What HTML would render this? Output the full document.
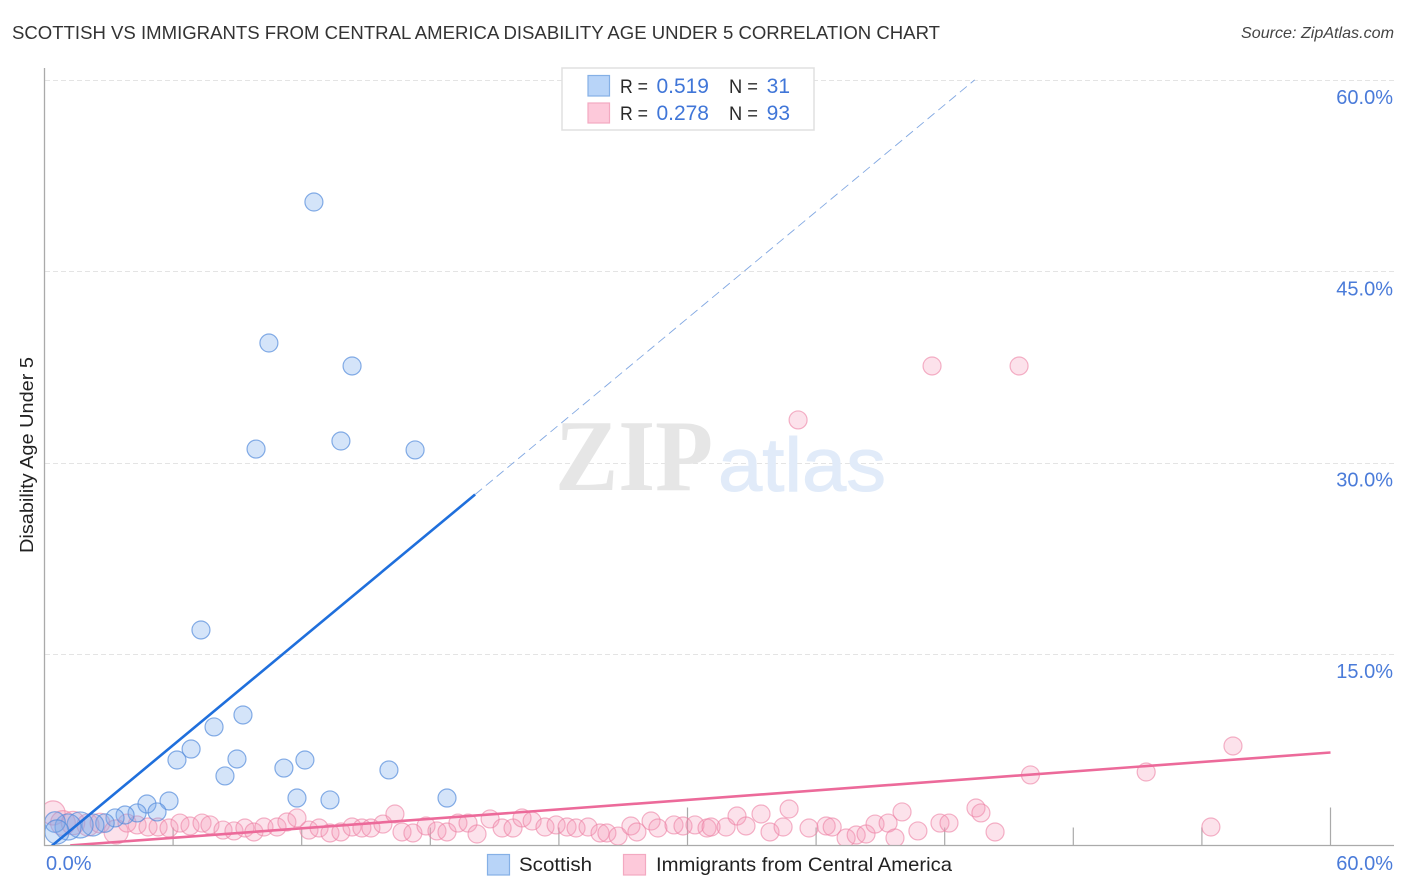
<!DOCTYPE html>
<html lang="en">
<head>
<meta charset="utf-8">
<title>Scottish vs Immigrants from Central America Disability Age Under 5 Correlation Chart</title>
<style>
html,body{margin:0;padding:0;background:#fff;width:1406px;height:892px;overflow:hidden}
svg{display:block;font-family:"Liberation Sans",sans-serif}
</style>
</head>
<body>
<svg id="chart" xmlns="http://www.w3.org/2000/svg" width="1406" height="892" viewBox="0 0 1406 892">
  <defs>
    <clipPath id="plot-clip"><rect x="45" y="60" width="1349" height="785"/></clipPath>
  </defs>
  <text x="12" y="39" font-size="18.5" fill="#333" textLength="928" lengthAdjust="spacingAndGlyphs">SCOTTISH VS IMMIGRANTS FROM CENTRAL AMERICA DISABILITY AGE UNDER 5 CORRELATION CHART</text>
  <text x="1394" y="38" font-size="16" font-style="italic" fill="#444" text-anchor="end" textLength="153" lengthAdjust="spacingAndGlyphs">Source: ZipAtlas.com</text>

  <g id="grid"></g>

  <g>
    <text x="555" y="490" font-family="'Liberation Serif',serif" font-weight="bold" font-size="102" fill="#e6e6e6" textLength="158" lengthAdjust="spacingAndGlyphs">ZIP</text>
    <text x="718" y="491" font-size="76" fill="#e1ebf9" stroke="#e1ebf9" stroke-width="1" textLength="168" lengthAdjust="spacingAndGlyphs">atlas</text>
  </g>

  <g id="axes">
    <line x1="44.5" y1="68" x2="44.5" y2="846" stroke="#aaa" stroke-width="1.3"/>
    <line x1="44" y1="845.5" x2="1394" y2="845.5" stroke="#aaa" stroke-width="1.3"/>
  </g>

  <g id="points" clip-path="url(#plot-clip)"></g>
  <g id="trends" clip-path="url(#plot-clip)"></g>
  <g id="tick-labels" font-size="20" fill="#4a7bd9"></g>

  <text transform="translate(33,455) rotate(-90)" font-size="18" fill="#222" text-anchor="middle" textLength="196" lengthAdjust="spacingAndGlyphs">Disability Age Under 5</text>

  <g>
    <rect x="562" y="68" width="252" height="62" fill="#fff" stroke="#e0e0e0" stroke-width="1.5"/>
    <rect x="588" y="75.5" width="21.5" height="20.5" fill="#b8d4f8" stroke="#85b0e6" stroke-width="1.2"/>
    <rect x="588" y="103" width="21.5" height="20" fill="#fdc9da" stroke="#f3a9c1" stroke-width="1.2"/>
    <g font-size="19.5" fill="#2a2a2a">
      <text x="620" y="93" textLength="28" lengthAdjust="spacingAndGlyphs">R =</text>
      <text x="729" y="93" textLength="29" lengthAdjust="spacingAndGlyphs">N =</text>
      <text x="620" y="120" textLength="28" lengthAdjust="spacingAndGlyphs">R =</text>
      <text x="729" y="120" textLength="29" lengthAdjust="spacingAndGlyphs">N =</text>
    </g>
    <g font-size="21" fill="#4076d8" text-anchor="end">
      <text x="709" y="93">0.519</text>
      <text x="790" y="93">31</text>
      <text x="709" y="120">0.278</text>
      <text x="790" y="120">93</text>
    </g>
  </g>

  <g>
    <rect x="487.5" y="854.5" width="22" height="20.5" fill="#b8d4f8" stroke="#85b0e6" stroke-width="1.2"/>
    <text x="519" y="871" font-size="19.5" fill="#222" textLength="73" lengthAdjust="spacingAndGlyphs">Scottish</text>
    <rect x="623.5" y="854.5" width="22" height="20.5" fill="#fdc9da" stroke="#f3a9c1" stroke-width="1.2"/>
    <text x="656" y="871" font-size="19.5" fill="#222" textLength="296" lengthAdjust="spacingAndGlyphs">Immigrants from Central America</text>
  </g>
</svg>
<script>
const yTicks = [15, 30, 45, 60];
const yTickLabels = ["15.0%", "30.0%", "45.0%", "60.0%"];
const xTicks = [6, 12, 18, 24, 30, 36, 42, 48, 54, 60];
const xMajorTicks = [30, 60];
const xEndLabels = ["0.0%", "60.0%"];

const scottishX = [12.57,10.47,14.35,9.87,13.83,17.29,7.30,9.26,7.91,6.84,6.18,8.98,8.42,11.17,12.15,16.07,11.78,13.32,18.78,5.81,4.78,5.25,4.32,3.76,3.29,2.82,2.26,1.66,1.10,0.49,0.58];
const scottishY = [50.43,39.38,37.58,31.07,31.70,31.00,16.89,10.23,9.29,7.56,6.70,6.78,5.45,6.07,6.70,5.92,3.72,3.57,3.72,3.49,3.25,2.63,2.55,2.39,2.16,1.76,1.61,1.61,1.45,1.84,1.06];
const scottishWeight = [1,1,1,1,1,1,1,1,1,1,1,1,1,1,1,1,1,1,1,1,1,1,1,1,1,1.05,1.5,2.1,2.1,1.3,1.8];

const immigrantsX = [0.40,0.86,1.33,2.03,2.59,3.34,3.85,4.32,4.83,5.30,5.81,6.32,6.79,7.35,7.72,8.33,8.84,9.35,9.77,10.24,10.85,11.31,11.78,12.34,12.81,13.32,13.83,14.35,14.81,15.23,15.79,16.35,16.68,17.19,17.80,18.31,18.78,19.29,19.76,20.18,20.79,21.35,21.86,22.28,22.75,23.35,23.87,24.38,24.80,25.36,25.92,26.24,26.76,27.36,27.64,28.30,28.62,29.37,29.79,30.35,30.91,31.10,31.80,32.31,32.73,33.43,33.85,34.46,34.74,35.67,36.47,36.75,37.40,37.87,38.33,38.75,39.36,39.68,40.01,40.75,41.78,42.20,43.46,43.69,44.35,46.00,51.40,55.45,54.42,41.41,45.47,35.16];
const immigrantsY = [2.55,1.76,1.76,1.61,1.76,1.06,1.76,1.61,1.45,1.45,1.37,1.76,1.53,1.76,1.61,1.21,1.14,1.37,1.06,1.45,1.45,1.84,2.16,1.21,1.37,0.98,1.06,1.45,1.37,1.37,1.68,2.47,1.06,0.98,1.53,1.14,1.06,1.76,1.76,0.90,2.08,1.37,1.37,2.16,1.92,1.45,1.61,1.45,1.37,1.45,0.98,0.98,0.74,1.53,1.06,1.92,1.37,1.61,1.53,1.61,1.37,1.45,1.45,2.31,1.53,2.47,1.06,1.45,2.86,1.37,1.53,1.45,0.59,0.82,0.90,1.68,1.76,0.59,2.63,1.14,1.76,1.76,2.94,2.55,1.06,5.53,5.76,7.80,1.45,37.58,37.58,33.35];
const immigrantsLeadWeight = [1.8,1.9,1.7,1.5,1.2,1.8];

const scottishTrend = { intercept: -0.5, slope: 1.394, solidEnd: 20.09, dashEnd: 43.4 };
const immigrantsTrend = { intercept: -0.14, slope: 0.1238, start: 1.2, end: 60 };

const SVG_NS = "http://www.w3.org/2000/svg";
function xScale(v) { return 44.5 + v / 60 * 1286; }
function yScale(v) { return 845.5 - v * 12.76; }
function make(tag, attrs, parent) {
  const el = document.createElementNS(SVG_NS, tag);
  for (const k in attrs) el.setAttribute(k, attrs[k]);
  parent.appendChild(el);
  return el;
}

const gridGroup = document.getElementById("grid");
const axesGroup = document.getElementById("axes");
const labelGroup = document.getElementById("tick-labels");
const pointGroup = document.getElementById("points");
const trendGroup = document.getElementById("trends");

yTicks.forEach(function (t, i) {
  const line = make("line", { x1: 45, x2: 1394, y1: Math.round(yScale(t)) + 0.5, y2: Math.round(yScale(t)) + 0.5, stroke: "#e4e4e4", "stroke-width": 1, "stroke-dasharray": "5 3" }, gridGroup);
  
  
  const label = make("text", { x: 1393, y: yScale(t) + 24, "text-anchor": "end" }, labelGroup);
  label.textContent = yTickLabels[i];
  
  
});

xTicks.forEach(function (t) {
  const len = xMajorTicks.indexOf(t) >= 0 ? 38 : 18;
  const tick = make("line", { x1: xScale(t), x2: xScale(t), y1: 845.5 - len, y2: 845.5, stroke: "#aaa", "stroke-width": 1.2 }, axesGroup);
  
  
});

const xLabelStart = make("text", { x: 46, y: 870 }, labelGroup);
xLabelStart.textContent = xEndLabels[0];


const xLabelEnd = make("text", { x: 1393, y: 870, "text-anchor": "end" }, labelGroup);
xLabelEnd.textContent = xEndLabels[1];



immigrantsX.forEach(function (v, i) {
  const w = immigrantsLeadWeight[i] || 1;
  const c = make("circle", { cx: xScale(v), cy: yScale(immigrantsY[i]), r: 9 * Math.sqrt(w), fill: "rgba(246,150,182,0.28)", stroke: "rgba(236,128,164,0.6)", "stroke-width": 1.2 }, pointGroup);
  
  
});

scottishX.forEach(function (v, i) {
  const c = make("circle", { cx: xScale(v), cy: yScale(scottishY[i]), r: 9 * Math.sqrt(scottishWeight[i]), fill: "rgba(120,170,236,0.32)", stroke: "rgba(84,140,220,0.7)", "stroke-width": 1.2 }, pointGroup);
  
  
});

function trendY(trend, x) { return trend.intercept + trend.slope * x; }

const scottishSolid = make("line", { x1: xScale(0), y1: yScale(trendY(scottishTrend, 0)), x2: xScale(scottishTrend.solidEnd), y2: yScale(trendY(scottishTrend, scottishTrend.solidEnd)), stroke: "#1f6fdc", "stroke-width": 2.6 }, trendGroup);



const scottishDash = make("line", { x1: xScale(scottishTrend.solidEnd), y1: yScale(trendY(scottishTrend, scottishTrend.solidEnd)), x2: xScale(scottishTrend.dashEnd), y2: yScale(trendY(scottishTrend, scottishTrend.dashEnd)), stroke: "#82a8e2", "stroke-width": 0.9, "stroke-dasharray": "9 5" }, trendGroup);



const immigrantsLine = make("line", { x1: xScale(immigrantsTrend.start), y1: yScale(trendY(immigrantsTrend, immigrantsTrend.start)), x2: xScale(immigrantsTrend.end), y2: yScale(trendY(immigrantsTrend, immigrantsTrend.end)), stroke: "#ec6a9a", "stroke-width": 2.6 }, trendGroup);


</script>
</body>
</html>
